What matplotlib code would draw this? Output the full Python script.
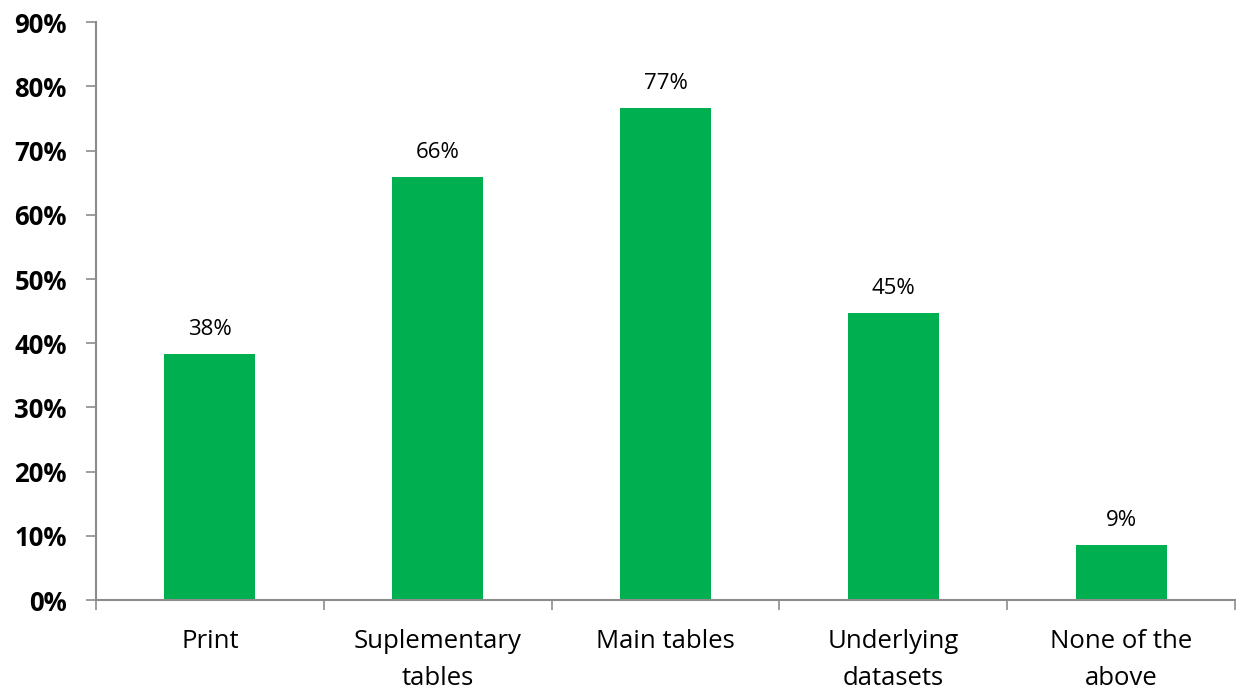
import matplotlib.pyplot as plt
from matplotlib.ticker import MultipleLocator, FuncFormatter

categories = ['Print', 'Suplementary\ntables', 'Main tables', 'Underlying\ndatasets', 'None of the\nabove']
shares = [0.383, 0.659, 0.766, 0.447, 0.086]

plt.rcParams['font.family'] = ['Open Sans', 'DejaVu Sans']

fig = plt.figure(figsize=(12.36, 6.93), dpi=100)
ax = fig.add_axes([0.0777, 0.134, 0.9215, 0.834])

x = list(range(len(categories)))
bars = ax.bar(x, shares, width=0.4, color='#00B050', zorder=2)

for b, v in zip(bars, shares):
    ax.text(b.get_x() + b.get_width() / 2, v + 0.022, f'{v:.0%}',
            ha='center', va='bottom', fontsize=16, color='black')

ax.set_xlim(-0.5, len(categories) - 0.5)
ax.set_ylim(0, 0.9)
ax.yaxis.set_major_locator(MultipleLocator(0.1))
ax.yaxis.set_major_formatter(FuncFormatter(lambda v, _: f'{v:.0%}'))
for lbl in ax.get_yticklabels():
    lbl.set_fontweight('bold')
ax.tick_params(axis='y', labelsize=18.5, length=7, width=1.2, color='#8c8c8c', pad=14)

# category labels sit between boundary ticks
ax.set_xticks([i - 0.5 for i in range(len(categories) + 1)])
ax.set_xticklabels([])
ax.set_xticks(x, minor=True)
ax.set_xticklabels(categories, minor=True, fontsize=18.5, linespacing=1.6)
ax.tick_params(axis='x', which='major', length=7, width=1.2, color='#8c8c8c')
ax.tick_params(axis='x', which='minor', length=0, pad=21)

for side in ('top', 'right'):
    ax.spines[side].set_visible(False)
for side in ('left', 'bottom'):
    ax.spines[side].set_color('#8c8c8c')
    ax.spines[side].set_linewidth(1.5)

fig.savefig('out.png', dpi=100)
